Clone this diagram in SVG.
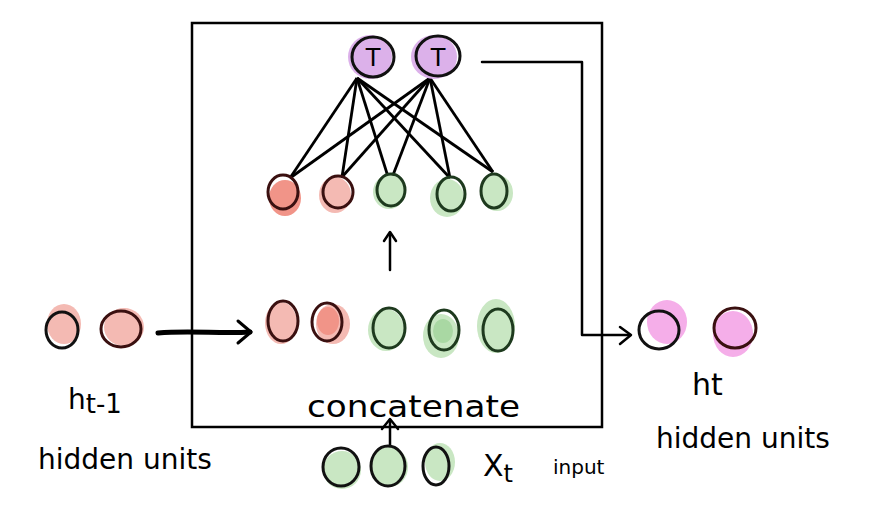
<svg xmlns="http://www.w3.org/2000/svg" width="890" height="514" viewBox="0 0 890 514">
<defs>
<style>
.box{fill:none;stroke:#000;stroke-width:2.5}
.ol{fill:none;stroke:#111;stroke-width:3}
.olg{fill:none;stroke:#1e3a1e;stroke-width:3}
.olr{fill:none;stroke:#3a1010;stroke-width:3}
.red{fill:#f4bab3}
.red2{fill:#f19488}
.grn{fill:#c9e7c3}
.grn2{fill:#a9d8a3}
.pur{fill:#dcb1ea}
.pnk{fill:#f5aee9}
.edge{stroke:#000;stroke-width:2.8;fill:none}
.arr{stroke:#000;stroke-width:2.5;fill:none;stroke-linecap:round;stroke-linejoin:round}
.txt{font-family:"DejaVu Sans","Liberation Sans",sans-serif;fill:#000;font-weight:normal}
</style>
</defs>
<rect width="890" height="514" fill="#fff"/>
<rect class="box" x="192" y="23" width="410" height="404"/>

<g id="connectors">
<line class="edge" x1="357" y1="78" x2="290" y2="178"/>
<line class="edge" x1="357" y1="78" x2="342" y2="177"/>
<line class="edge" x1="357" y1="78" x2="390" y2="183"/>
<line class="edge" x1="357" y1="78" x2="450" y2="178"/>
<line class="edge" x1="357" y1="78" x2="493" y2="172"/>
<line class="edge" x1="430" y1="78" x2="290" y2="178"/>
<line class="edge" x1="430" y1="78" x2="342" y2="177"/>
<line class="edge" x1="430" y1="78" x2="390" y2="183"/>
<line class="edge" x1="430" y1="78" x2="450" y2="178"/>
<line class="edge" x1="430" y1="78" x2="493" y2="172"/>
<polyline class="arr" points="482,62 582,62 582,335 630,335"/>
<polyline class="arr" points="620,327 631,335 620,344"/>
<path class="arr" d="M158,333 C190,330 220,334 250,332" style="stroke-width:5"/>
<polyline class="arr" points="238,321 251,332 238,343" style="stroke-width:3"/>
<line class="arr" x1="390" y1="270" x2="390" y2="234"/>
<polyline class="arr" points="384,241 390,232 396,241"/>
<line class="arr" x1="390" y1="449" x2="390" y2="420"/>
<polyline class="arr" points="382,429 390,419 398,429"/>
</g>

<g id="tanh1">
<ellipse class="pur" cx="370" cy="57" rx="22" ry="22"/>
<ellipse class="ol" cx="373" cy="57" rx="21" ry="20"/>
<text class="txt" x="373" y="66" font-size="24" text-anchor="middle" fill="#222">T</text>
</g>
<g id="tanh2">
<ellipse class="pur" cx="434" cy="57" rx="23" ry="22"/>
<ellipse class="ol" cx="438" cy="56" rx="22" ry="20"/>
<text class="txt" x="438" y="66" font-size="24" text-anchor="middle" fill="#222">T</text>
</g>

<g id="hidden-row">
<g id="h1"><ellipse class="red2" cx="285" cy="198" rx="16" ry="18"/><ellipse class="olr" cx="283" cy="192" rx="15" ry="17"/></g>
<g id="h2"><ellipse class="red" cx="335" cy="195" rx="16" ry="18"/><ellipse class="olr" cx="338" cy="192" rx="15" ry="16"/></g>
<g id="h3"><ellipse class="grn" cx="389" cy="192" rx="16" ry="17"/><ellipse class="olg" cx="391" cy="190" rx="14" ry="16"/></g>
<g id="h4"><ellipse class="grn" cx="447" cy="198" rx="17" ry="19"/><ellipse class="olg" cx="451" cy="194" rx="14" ry="17"/></g>
<g id="h5"><ellipse class="grn" cx="497" cy="193" rx="16" ry="18"/><ellipse class="olg" cx="494" cy="191" rx="13" ry="17"/></g>
</g>

<g id="concat-row">
<g id="c1"><ellipse class="red" cx="281" cy="323" rx="16" ry="21"/><ellipse class="olr" cx="283" cy="321" rx="15" ry="20"/></g>
<g id="c2"><ellipse class="red" cx="333" cy="324" rx="17" ry="20"/><ellipse class="red2" cx="328" cy="321" rx="11" ry="14"/><ellipse class="olr" cx="327" cy="322" rx="15" ry="19"/></g>
<g id="c3"><ellipse class="grn" cx="386" cy="330" rx="18" ry="21"/><ellipse class="olg" cx="389" cy="328" rx="16" ry="20"/></g>
<g id="c4"><ellipse class="grn" cx="441" cy="336" rx="18" ry="22"/><ellipse class="grn2" cx="443" cy="331" rx="10" ry="12"/><ellipse class="olg" cx="444" cy="330" rx="15" ry="20"/></g>
<g id="c5"><ellipse class="grn" cx="496" cy="326" rx="19" ry="27"/><ellipse class="olg" cx="498" cy="330" rx="15" ry="21"/></g>
</g>

<g id="prev-hidden">
<g id="p1"><ellipse class="red" cx="64" cy="324" rx="17" ry="20"/><ellipse class="ol" cx="62" cy="330" rx="16" ry="18"/></g>
<g id="p2"><ellipse class="red" cx="124" cy="327" rx="20" ry="19"/><ellipse class="olr" cx="121" cy="329" rx="20" ry="18"/></g>
<text class="txt" x="68" y="409" font-size="28">h<tspan font-size="26" dy="4">t-1</tspan></text>
<text class="txt" x="38" y="469" font-size="28">hidden units</text>
</g>

<g id="input">
<g id="x1"><ellipse class="grn" cx="342" cy="470" rx="19" ry="19"/><ellipse class="ol" cx="341" cy="467" rx="18" ry="19"/></g>
<g id="x2"><ellipse class="grn" cx="389" cy="467" rx="19" ry="20"/><ellipse class="ol" cx="388" cy="466" rx="17" ry="20"/></g>
<g id="x3"><ellipse class="grn" cx="440" cy="462" rx="15" ry="19"/><ellipse class="ol" cx="436" cy="466" rx="13" ry="19"/></g>
<text class="txt" x="483" y="476" font-size="30">X<tspan font-size="24" dy="6">t</tspan></text>
<text class="txt" x="553" y="474" font-size="20">input</text>
</g>

<g id="next-hidden">
<g id="n1"><ellipse class="pnk" cx="667" cy="322" rx="20" ry="22"/><ellipse class="ol" cx="659" cy="330" rx="20" ry="19"/></g>
<g id="n2"><ellipse class="pnk" cx="733" cy="334" rx="20" ry="23"/><ellipse class="olr" cx="735" cy="328" rx="21" ry="20"/></g>
<text class="txt" x="692" y="395" font-size="30">ht</text>
<text class="txt" x="656" y="448" font-size="28">hidden units</text>
</g>

<g id="label-concat">
<text class="txt" x="307" y="417" font-size="30" textLength="213" lengthAdjust="spacingAndGlyphs">concatenate</text>
</g>
</svg>
